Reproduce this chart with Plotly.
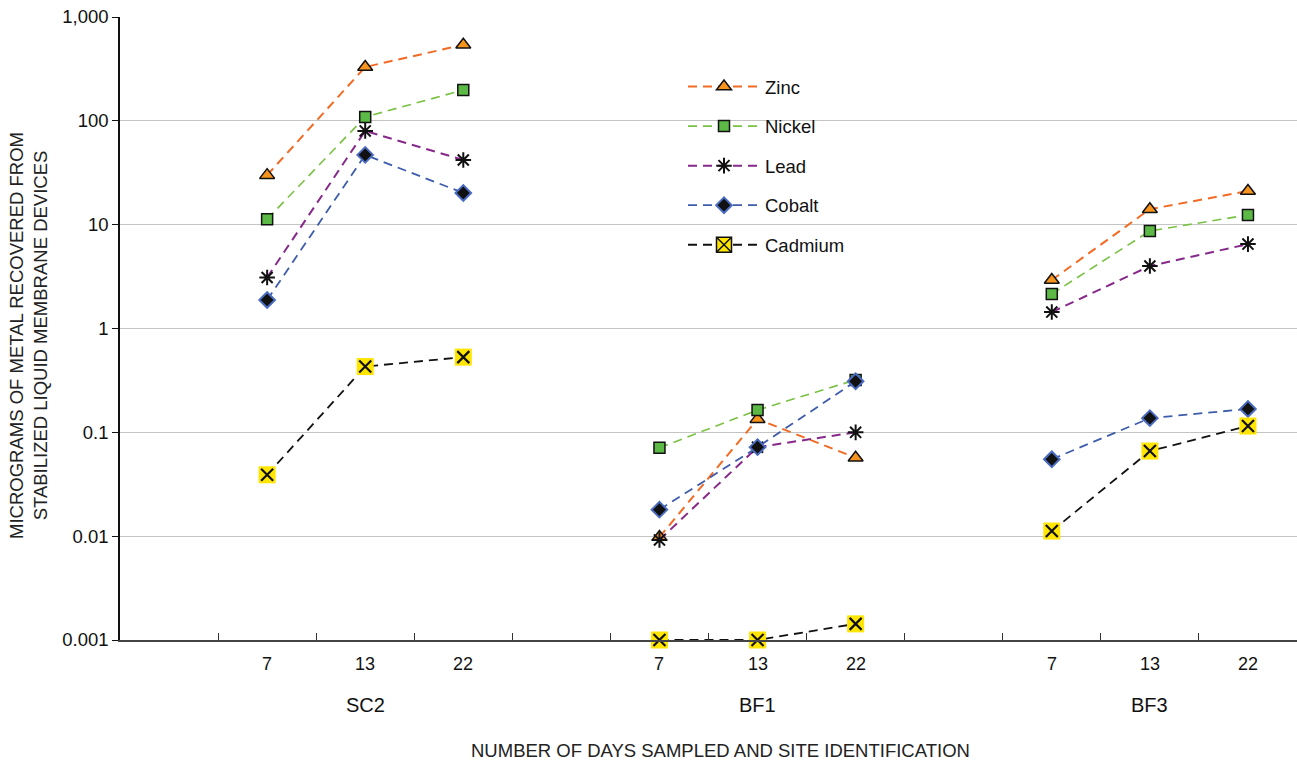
import plotly.graph_objects as go

sites = ["SC2", "BF1", "BF3"]
days = ["7", "13", "22"]

zinc = [30, 330, 540, 0.0098, 0.134, 0.057, 2.93, 14.1, 21.1]
nickel = [11.3, 109, 198, 0.071, 0.164, 0.32, 2.15, 8.7, 12.4]
lead = [3.1, 80, 42, 0.0092, 0.072, 0.100, 1.44, 4.0, 6.5]
cobalt = [1.88, 47, 20.2, 0.018, 0.072, 0.31, 0.055, 0.137, 0.168]
cadmium = [0.039, 0.43, 0.53, 0.001, 0.001, 0.00143, 0.0112, 0.066, 0.115]

ytickvals = [0.001, 0.01, 0.1, 1, 10, 100, 1000]
yticktext = ["0.001", "0.01", "0.1", "1", "10", "100", "1,000"]

FONT = "Liberation Sans, Arial, sans-serif"
W, H = 1297, 763
L, R, T, B = 120, 0, 17, 123
PW, PH = W - L - R, H - T - B


def px_x(p):
    return (p - L) / PW


def px_y(p):
    return (H - B - p) / PH


# slot positions: one empty slot before each site group of three days;
# a None gap separates the site groups so lines do not join across sites
def with_gaps(vals):
    xs, ys = [], []
    for s in range(len(sites)):
        for d in range(len(days)):
            xs.append(1 + 4 * s + d + 0.5)
            ys.append(vals[s * len(days) + d])
        if s < len(sites) - 1:
            xs.append(None)
            ys.append(None)
    return xs, ys


fig = go.Figure()

DASH = "9px,6px"

series = [
    ("Zinc", zinc, "#f26a24", 2, dict(symbol="triangle-up", size=13, color="#f7941d", line=dict(color="#111", width=1.5))),
    ("Nickel", nickel, "#79c143", 1.6, dict(symbol="square", size=11, color="#5cb946", line=dict(color="#111", width=1.5))),
    ("Lead", lead, "#86298a", 2, dict(symbol="asterisk-open", size=13, color="#111", line=dict(color="#111", width=2))),
    ("Cobalt", cobalt, "#3d5cab", 1.8, dict(symbol="diamond", size=12, color="#111", line=dict(color="#4a6cc0", width=2))),
]

for name, vals, lc, lw, mk in series:
    x, y = with_gaps(vals)
    fig.add_trace(go.Scatter(
        x=x, y=y, name=name, mode="lines+markers", connectgaps=False,
        line=dict(color=lc, width=lw, dash=DASH),
        marker=mk, legendgroup=name, cliponaxis=False,
    ))

cx, cy = with_gaps(cadmium)
fig.add_trace(go.Scatter(
    x=cx, y=cy, name="Cadmium", mode="lines+markers", connectgaps=False,
    line=dict(color="#111", width=1.8, dash=DASH),
    marker=dict(symbol="square", size=17, color="#ffe500", line=dict(width=0)),
    showlegend=False, legendgroup="Cadmium", cliponaxis=False,
))
fig.add_trace(go.Scatter(
    x=cx, y=cy, name="Cadmium", mode="markers",
    marker=dict(symbol="x-thin-open", size=12, color="#111", line=dict(color="#111", width=2.2)),
    showlegend=False, legendgroup="Cadmium", cliponaxis=False, hoverinfo="skip",
))
fig.add_trace(go.Scatter(
    x=[None], y=[None], name="Cadmium", mode="lines+markers",
    line=dict(color="#111", width=1.8, dash=DASH),
    marker=dict(symbol="square-x", size=15, color="#ffe500", line=dict(color="#111", width=1.5)),
    legendgroup="Cadmium",
))

boundaries = list(range(1, 12))

annotations = []
for s, site in enumerate(sites):
    for d, day in enumerate(days):
        annotations.append(dict(x=1 + 4 * s + d + 0.5, y=px_y(664), xref="x", yref="paper",
                                text=day, showarrow=False, yanchor="middle",
                                font=dict(family=FONT, size=18, color="#111")))
    annotations.append(dict(x=1 + 4 * s + 1 + 0.5, y=px_y(705), xref="x", yref="paper",
                            text=site, showarrow=False, yanchor="middle",
                            font=dict(family=FONT, size=20, color="#111")))

annotations.append(dict(x=px_x(720), y=px_y(750), xref="paper", yref="paper",
                        text="NUMBER OF DAYS SAMPLED AND SITE IDENTIFICATION", showarrow=False,
                        yanchor="middle", font=dict(family=FONT, size=18.5, color="#222")))
annotations.append(dict(x=px_x(28), y=px_y(336), xref="paper", yref="paper",
                        text="MICROGRAMS OF METAL RECOVERED FROM<br>STABILIZED LIQUID MEMBRANE DEVICES",
                        showarrow=False, textangle=-90, xanchor="center", yanchor="middle",
                        font=dict(family=FONT, size=18.5, color="#222")))

shapes = [dict(type="rect", xref="paper", yref="paper",
               x0=px_x(654), x1=px_x(872), y0=px_y(268), y1=px_y(60),
               fillcolor="white", line=dict(width=0), layer="between")]

fig.update_layout(
    width=W, height=H,
    margin=dict(l=L, r=R, t=T, b=B, autoexpand=False),
    paper_bgcolor="white", plot_bgcolor="white",
    font=dict(family=FONT, size=18, color="#111"),
    xaxis=dict(range=[0, 12], tickvals=boundaries, ticks="inside", ticklen=7, tickwidth=1.2,
               tickcolor="#333", showticklabels=False, showline=True, linecolor="#444",
               linewidth=1.5, showgrid=False, zeroline=False, automargin=False),
    xaxis2=dict(range=[0, 12], overlaying="x", side="top", anchor="y", tickvals=boundaries,
                ticks="inside", ticklen=7, tickwidth=1.2, tickcolor="#333", showticklabels=False,
                showline=True, linecolor="#999", linewidth=1.5, showgrid=False, zeroline=False,
                automargin=False),
    yaxis=dict(type="log", range=[-3, 3], tickvals=ytickvals, ticktext=yticktext,
               ticks="outside", ticklen=6, tickcolor="#111", showline=True, linecolor="#111",
               linewidth=1.5, gridcolor="#c4c4c4", gridwidth=1, zeroline=False, automargin=False,
               tickfont=dict(family=FONT, size=18.5, color="#111")),
    legend=dict(x=px_x(683), y=px_y(68), xanchor="left", yanchor="top",
                bgcolor="rgba(255,255,255,0)", borderwidth=0, itemwidth=72, tracegroupgap=12.5,
                traceorder="grouped", font=dict(family=FONT, size=18.5, color="#111")),
    annotations=annotations,
    shapes=shapes,
    showlegend=True,
)

fig.write_html("out.html", config={"displayModeBar": False},
               post_script="document.body.style.margin='0';document.body.style.overflow='hidden';")
